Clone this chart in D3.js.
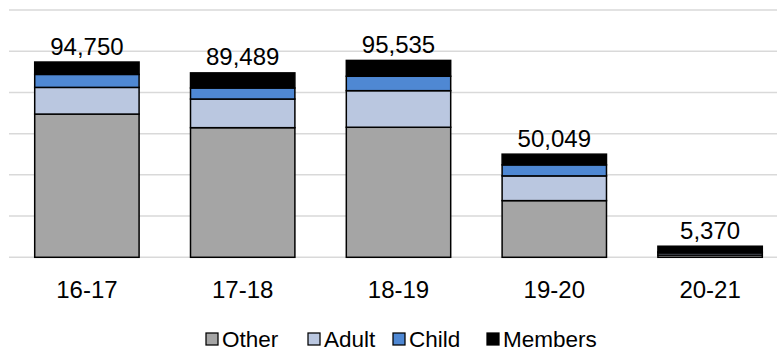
<!DOCTYPE html>
<html>
<head>
<meta charset="utf-8">
<script src="https://cdn.jsdelivr.net/npm/d3@7"></script>
<style>
  body { margin: 0; background: #fff; }
  svg { display: block; font-family: "Liberation Sans", Arial, sans-serif; }
</style>
</head>
<body>
<svg id="chart"></svg>
<script>
const categories = ['16-17', '17-18', '18-19', '19-20', '20-21'];
const other   = [69500, 62900, 63100, 27500, 1100];
const adult   = [12950, 13900, 17750, 12000, 1000];
const child   = [6300, 5350, 7000, 5350, 500];
const members = [6000, 7339, 7685, 5199, 2770];
const totals  = [94750, 89489, 95535, 50049, 5370];
const seriesNames = ['Other', 'Adult', 'Child', 'Members'];
const yTicks = [0, 20000, 40000, 60000, 80000, 100000, 120000];

const W = 777, H = 351;
const colors = d3.scaleOrdinal(seriesNames, ['#a5a5a5', '#bac7e0', '#4f88d3', '#000000']);

const rows = categories.map((c, i) => ({
  category: c, Other: other[i], Adult: adult[i], Child: child[i], Members: members[i], total: totals[i]
}));

const svg = d3.select('#chart').attr('width', W).attr('height', H);

const x = d3.scaleBand().domain(categories).range([9, 788])
  .paddingInner(0.33).paddingOuter(0.165);
const y = d3.scaleLinear().domain([0, 120000]).range([257.3, 10]);

// gridlines
svg.append('g')
  .selectAll('line')
  .data(yTicks)
  .join('line')
  .attr('x1', 9).attr('x2', W)
  .attr('y1', d => y(d)).attr('y2', d => y(d))
  .attr('stroke', '#d9d9d9')
  .attr('stroke-width', 1.5);

// stacked bars
const stacked = d3.stack().keys(seriesNames)(rows);
svg.append('g')
  .selectAll('g')
  .data(stacked)
  .join('g')
  .attr('fill', d => colors(d.key))
  .selectAll('rect')
  .data(d => d)
  .join('rect')
  .attr('x', d => x(d.data.category))
  .attr('width', x.bandwidth())
  .attr('y', d => y(d[1]))
  .attr('height', d => y(d[0]) - y(d[1]))
  .attr('stroke', '#000')
  .attr('stroke-width', 1.5);

// total labels
svg.append('g')
  .selectAll('text')
  .data(rows)
  .join('text')
  .attr('x', d => x(d.category) + x.bandwidth() / 2)
  .attr('y', d => y(d.total) - 7.5)
  .attr('text-anchor', 'middle')
  .attr('font-size', 24)
  .attr('fill', '#000')
  .text(d => d3.format(',')(d.total));

// category axis labels
svg.append('g')
  .selectAll('text')
  .data(categories)
  .join('text')
  .attr('x', d => x(d) + x.bandwidth() / 2)
  .attr('y', 297.5)
  .attr('text-anchor', 'middle')
  .attr('font-size', 24)
  .attr('fill', '#000')
  .text(d => d);

// legend
const legendX = [206, 308, 393, 487];
const legend = svg.append('g')
  .selectAll('g')
  .data(seriesNames)
  .join('g')
  .attr('transform', (d, i) => `translate(${legendX[i]},333)`);
legend.append('rect')
  .attr('width', 12).attr('height', 12)
  .attr('fill', d => colors(d))
  .attr('stroke', '#000')
  .attr('stroke-width', 1.25);
legend.append('text')
  .attr('x', 16).attr('y', 14)
  .attr('font-size', 22.5)
  .attr('fill', '#000')
  .text(d => d);
</script>
</body>
</html>
